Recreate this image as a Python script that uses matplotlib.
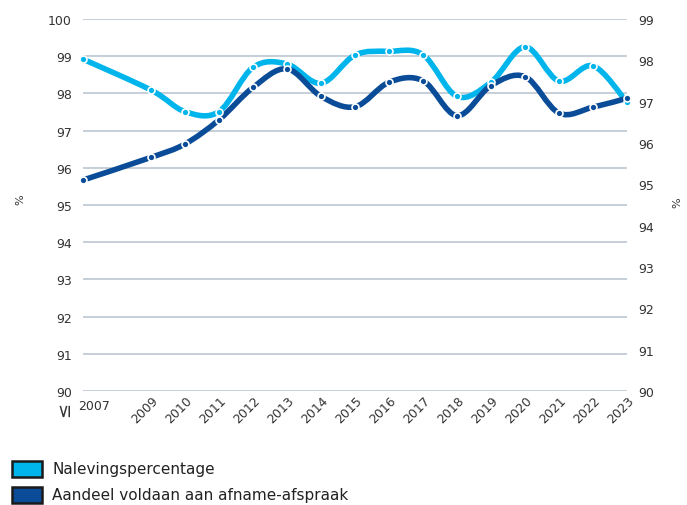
import numpy as np
import matplotlib.pyplot as plt
from matplotlib.path import Path
from matplotlib.patches import PathPatch, Rectangle
from matplotlib.transforms import ScaledTranslation

plt.rcParams['font.family'] = ['DejaVu Sans']

# data
jaren = [2007, 2009, 2010, 2011, 2012, 2013, 2014, 2015, 2016, 2017, 2018, 2019, 2020, 2021, 2022, 2023]
jaar_labels = ['2007', '2009', '2010', '2011', '2012', '2013', '2014', '2015', '2016', '2017', '2018',
               '2019', '2020', '2021', '2022', '2023']
naleving = [98.92, 98.09, 97.51, 97.51, 98.70, 98.79, 98.27, 99.03, 99.13, 99.04, 97.92, 98.30,
            99.25, 98.33, 98.74, 97.76]
aandeel = [95.67, 96.28, 96.64, 97.29, 98.16, 98.66, 97.92, 97.64, 98.30, 98.34, 97.40, 98.21,
           98.45, 97.47, 97.63, 97.87]
links_ticks = list(range(90, 101))
rechts_ticks = list(range(90, 100))
legenda = ['Nalevingspercentage', 'Aandeel voldaan aan afname-afspraak']

licht = '#00b5ec'
donker = '#0b4c98'
grijs = '#333333'

W, H = 687, 506


def glad_pad(x, y):
    # catmull-rom door de punten, als bezier-pad
    x = np.asarray(x, float)
    y = np.asarray(y, float)
    p = np.column_stack([x, y])
    n = len(p)
    verts = [p[0]]
    codes = [Path.MOVETO]
    for i in range(n - 1):
        p0 = p[i - 1] if i > 0 else p[i]
        p3 = p[i + 2] if i + 2 < n else p[i + 1]
        c1 = p[i] + (p[i + 1] - p0) / 6
        c2 = p[i + 1] - (p3 - p[i]) / 6
        verts += [c1, c2, p[i + 1]]
        codes += [Path.CURVE4] * 3
    return Path(verts, codes)


fig = plt.figure(figsize=(W / 100, H / 100), dpi=100)
ax = fig.add_axes([83 / W, 1 - 392 / H, 544 / W, 372 / H])

for serie, kleur in [(naleving, licht), (aandeel, donker)]:
    ax.add_patch(PathPatch(glad_pad(jaren, serie), facecolor='none', edgecolor=kleur,
                           lw=4, capstyle='round', joinstyle='round', clip_on=False, zorder=3))
    ax.plot(jaren, serie, 'o', ms=5, mfc=kleur, mec='white', mew=1.2, clip_on=False, zorder=4)

ax.set_xlim(2007, 2023)
ax.set_ylim(90, 100)
ax.set_yticks(links_ticks)
ax.grid(axis='y', color='#c2ccd4', lw=1.3)
ax.set_axisbelow(True)
for s in ax.spines.values():
    s.set_visible(False)
ax.tick_params(axis='y', length=0, labelsize=9, labelcolor=grijs, pad=8)

ax.set_xticks(jaren)
ax.set_xticklabels(['' if l == '2007' else l for l in jaar_labels], rotation=45, ha='right',
                   va='top', fontsize=9, color=grijs)
ax.tick_params(axis='x', length=0, pad=2)
verschuif = ScaledTranslation(10 / 100, 0, fig.dpi_scale_trans)
for lab in ax.get_xticklabels():
    lab.set_transform(lab.get_transform() + verschuif)

tr = ax.get_xaxis_transform()
ax.text(2006.85, -0.038, '2007', transform=tr, ha='left', va='center', fontsize=9, color=grijs)
ax.text(2006.45, -0.046, '≤', transform=tr, ha='center', va='center', fontsize=13, color=grijs,
        rotation=90)

ax2 = ax.twinx()
ax2.set_ylim(90, 99)
ax2.set_yticks(rechts_ticks)
for s in ax2.spines.values():
    s.set_visible(False)
ax2.tick_params(axis='y', length=0, labelsize=9, labelcolor=grijs, pad=8)

fig.text(20 / W, 1 - 200 / H, '%', rotation=90, ha='center', va='center', fontsize=8, color=grijs)
fig.text(677 / W, 1 - 203 / H, '%', rotation=90, ha='center', va='center', fontsize=8, color=grijs)

# legenda
for i, (naam, kleur) in enumerate(zip(legenda, [licht, donker])):
    ytop = 462 + i * 26
    fig.add_artist(Rectangle((12 / W, 1 - (ytop + 16) / H), 30 / W, 16 / H, transform=fig.transFigure,
                             facecolor=kleur, edgecolor='#1a1a1a', lw=1.8))
    fig.text(52 / W, 1 - (ytop + 8) / H, naam, ha='left', va='center', fontsize=11, color='#222222')

fig.savefig('out.png', dpi=100)
